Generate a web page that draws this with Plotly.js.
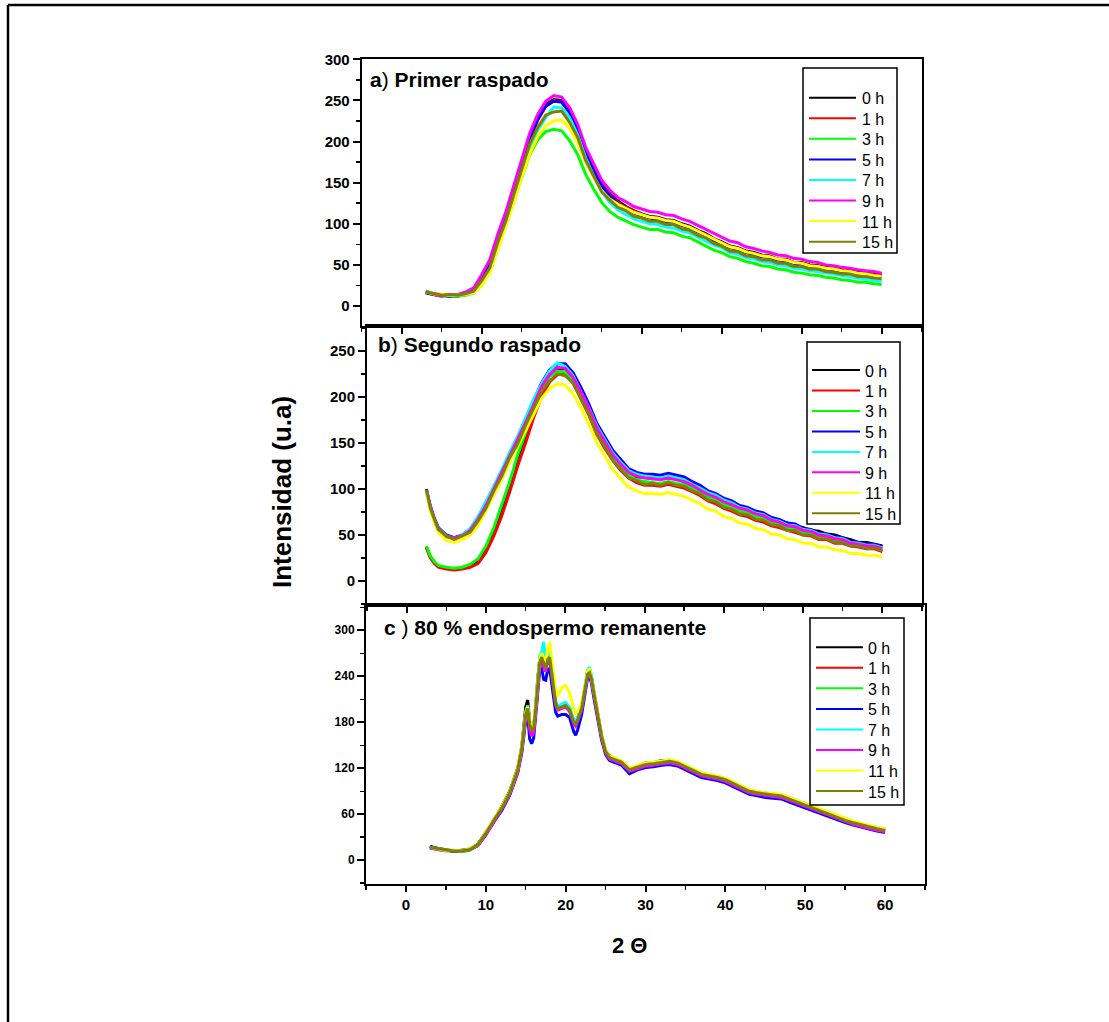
<!DOCTYPE html>
<html><head><meta charset="utf-8">
<script src="https://cdn.plot.ly/plotly-3.0.1.min.js"></script>
<style>html,body{margin:0;padding:0;background:#fff}</style>
</head><body><div id="chart" style="width:1109px;height:1022px"></div>
<script>
const W = 1109, H = 1022;
const seriesNames = ['0 h','1 h','3 h','5 h','7 h','9 h','11 h','15 h'];
const seriesColors = ['#000000','#FF0000','#00FF00','#0000FF','#00FFFF','#FF00FF','#FFFF00','#808000'];

// Panel a: Primer raspado (2 theta = 3..60)
const xA = [3,4,5,6,7,8,9,10,11,12,13,14,15,16,17,18,19,20,21,22,23,24,25,26,27,28,29,30,31,32,33,34,35,36,37,38,39,40,41,42,43,44,45,46,47,48,49,50,51,52,53,54,55,56,57,58,59,60];
const a_0h = [17,14,13,13,12,15,20,34,51,82, 109,140,172,204,228,245,251,250,238,218, 190,168,149,137,128,121,116,112,109,108, 105,104,100,97,92,88,82,78,73,71, 67,65,62,61,57,57,53,53,50,49, 47,46,44,43,41,40,39,38];
const a_1h = [18,15,14,13,13,14,19,33,50,80, 108,139,170,202,226,243,250,248,236,216, 188,166,147,135,126,120,115,111,108,106, 104,102,99,96,91,87,81,77,72,70, 66,64,61,60,57,56,53,52,49,48, 46,45,43,42,40,40,38,37];
const a_3h = [16,14,12,12,12,13,16,26,42,71, 98,127,156,184,202,212,215,213,201,184, 160,142,126,115,108,103,99,96,93,93, 90,89,85,83,78,74,68,65,60,58, 54,52,49,48,45,44,41,40,38,37, 35,34,32,31,29,29,27,26];
const a_5h = [16,14,13,12,13,15,21,34,51,81, 108,139,171,203,227,243,249,248,235,214, 187,165,146,134,125,119,113,110,107,105, 103,101,98,95,90,86,80,76,71,69, 65,63,60,59,56,55,52,51,48,47, 45,44,42,41,40,39,37,36];
const a_7h = [18,15,13,13,13,14,17,27,43,72, 100,130,161,191,214,229,242,241,229,208, 180,158,139,126,117,111,106,103,100,99, 96,95,91,89,84,80,74,71,65,63, 59,57,54,53,50,49,46,45,43,42, 40,39,37,36,34,33,31,30];
const a_9h = [18,14,12,14,14,17,22,38,56,87, 114,146,178,210,233,249,256,254,241,221, 193,172,153,141,132,127,121,118,115,114, 111,110,106,103,98,94,89,84,79,77, 72,70,67,65,62,61,58,57,54,53, 50,49,47,46,44,43,42,40];
const a_11h = [17,15,14,13,13,14,16,25,40,68, 95,125,156,185,206,219,225,226,216,198, 174,156,140,130,124,119,114,111,108,107, 104,103,99,96,91,87,81,77,72,70, 66,64,61,60,57,56,53,52,49,48, 46,45,43,42,40,39,37,36];
const a_15h = [17,15,13,14,13,15,18,31,46,77, 103,135,165,197,217,232,236,237,223,205, 177,158,139,129,120,116,109,107,103,103, 99,99,94,92,86,83,76,73,67,66, 61,60,56,56,52,52,48,48,45,45, 42,41,39,39,36,36,34,33];

// Panel b: Segundo raspado (2 theta = 2.5..60)
const xB = [2.5,3,3.5,4,5,6,7,8,9,10,11,12,13,14,15,16,17,18,19,20,21,22,23,24,25,26,27,28,29,30,31,32,33,34,35,36,37,38,39,40,41,42,43,44,45,46,47,48,49,50,51,52,53,54,55,56,57,58,59,60];
const b_0h = [37,26,20,16,14,13,14,17,22,36, 55,79,104,134,157,186,207,223,229,231, 221,206,186,167,150,139,127,120,113,113, 111,112,112,112,108,106,99,96,91,88, 83,81,77,75,71,69,65,63,60,58, 55,54,51,50,47,45,42,42,40,38];
const b_1h = [36,25,19,15,13,12,13,15,19,31, 49,71,97,125,150,177,200,216,224,226, 215,198,180,159,144,131,120,112,107,104, 104,103,105,103,101,97,93,87,84,79, 76,72,70,66,64,60,58,55,53,50, 49,45,45,41,41,38,37,35,35,32];
const b_3h = [38,27,21,17,15,14,15,18,24,38, 58,82,108,137,161,188,209,222,228,227, 217,201,183,162,148,134,124,115,110,108, 107,106,108,106,105,101,96,91,88,83, 80,76,74,70,68,64,62,58,57,53, 52,49,48,45,44,41,40,37,37,35];
const b_5h = [100,81,68,58,50,47,50,56,68,84, 102,119,139,156,176,196,215,229,236,236, 226,210,192,171,156,142,132,122,118,116, 116,115,117,115,113,108,104,98,95,90, 87,82,80,76,74,69,67,63,62,57, 56,52,51,48,47,43,42,40,40,37];
const b_7h = [98,78,66,57,49,46,50,57,70,86, 103,121,140,157,177,197,214,228,237,233, 223,206,188,168,153,139,129,120,116,114, 113,112,114,112,110,105,101,96,93,88, 85,80,78,74,72,67,65,61,60,56, 55,51,50,47,46,42,41,39,39,36];
const b_9h = [97,80,66,57,48,47,49,55,67,82, 100,117,136,153,172,191,211,224,232,231, 221,205,187,166,151,137,127,118,114,112, 111,110,112,110,108,104,99,94,91,86, 83,79,77,73,71,66,64,60,59,55, 54,50,49,46,45,41,40,38,38,35];
const b_11h = [96,76,63,53,44,42,45,50,60,76, 93,110,129,146,163,181,198,209,214,213, 203,188,170,150,135,121,111,102,98,95, 95,94,96,94,92,88,84,78,76,70, 68,63,62,57,56,51,50,46,45,41, 41,37,37,34,33,30,30,28,28,26];
const b_15h = [99,79,67,56,49,45,49,53,65,79, 98,114,134,149,169,187,206,217,225,223, 215,198,181,159,146,131,122,112,109,105, 106,104,107,104,103,98,95,88,86,80, 78,73,72,67,66,61,60,55,55,50, 50,46,46,42,42,38,38,35,36,33];

// Panel c: 80 % endospermo remanente
const xC = [3,4,5,6,7,8,9,10,11,12,13,14,14.5,15,15.25,15.5,15.75,16,16.25,16.5,16.75,17,17.25,17.5,17.75,18,18.25,18.5,18.75,19,19.5,20,20.5,21,21.25,21.5,22,22.5,22.75,23,23.25,23.5,24,24.5,25,25.5,26,27,28,29,30,31,32,33,34,35,36,37,38,39,40,41,42,43,44,45,46,47,48,49,50,51,52,53,54,55,56,57,58,59,60];
const c_0h = [18,14,13,12,13,14,21,36,51,70, 90,120,148,200,209,180,170,175,200,236, 262,268,260,252,264,268,246,224,206,199, 203,204,198,182,179,185,200,230,246,248, 238,222,194,163,143,136,133,129,119,123, 127,127,130,130,128,123,118,113,111,109, 106,101,96,91,89,87,86,85,81,77, 73,69,65,61,57,53,50,47,44,42, 40];
const c_1h = [17,15,14,12,12,15,20,34,53,67, 87,117,146,192,201,179,167,171,197,231, 257,264,257,249,263,266,244,221,204,197, 199,201,195,179,177,182,197,227,242,246, 237,219,191,161,141,133,131,127,117,121, 124,125,127,128,126,121,116,111,109,107, 104,99,94,89,87,85,84,83,79,75, 71,67,63,59,55,51,48,45,42,40, 38];
const c_3h = [16,14,12,12,11,13,19,35,51,69, 89,119,144,188,196,176,167,173,199,233, 259,266,259,251,261,264,244,221,206,199, 201,203,197,181,179,184,199,229,244,246, 235,219,191,161,143,135,133,129,119,123, 126,127,129,130,128,123,118,113,111,109, 106,101,96,91,89,87,86,85,81,77, 73,69,65,61,57,53,50,47,44,42, 40];
const c_5h = [18,15,13,12,12,14,19,33,50,65, 85,114,140,182,188,158,152,160,188,222, 248,250,236,235,248,250,232,210,193,188, 190,190,186,168,163,170,190,222,238,240, 230,214,186,157,138,130,128,124,113,118, 121,122,124,125,123,118,113,108,106,104, 101,96,91,86,84,82,81,80,76,72, 68,64,60,56,53,49,46,43,40,38, 36];
const c_7h = [17,14,13,13,12,14,20,36,52,69, 88,118,147,194,202,180,170,176,202,238, 266,272,285,256,268,272,250,226,208,201, 204,206,199,183,181,186,201,232,248,252, 240,223,194,163,143,135,133,129,119,123, 126,128,129,131,128,123,118,113,111,109, 106,101,96,91,89,87,86,85,81,77, 73,69,65,61,57,53,50,47,44,42, 40];
const c_9h = [16,14,13,12,12,14,19,33,50,67, 86,115,142,186,194,170,162,166,190,224, 250,258,252,246,258,262,242,219,202,196, 198,200,194,178,175,181,196,226,241,243, 234,218,190,160,140,132,130,126,116,120, 123,124,126,127,125,120,115,110,108,106, 103,98,93,88,86,84,83,82,78,74, 70,66,62,58,54,50,47,44,41,39, 37];
const c_11h = [17,15,13,13,12,15,20,36,53,70, 89,120,148,192,200,182,172,176,201,236, 262,270,264,258,275,285,262,240,222,214, 225,228,218,198,192,194,204,231,246,250, 238,222,194,164,144,136,134,130,120,124, 127,128,130,131,129,124,119,114,112,110, 107,102,97,92,90,88,87,86,82,78, 74,70,66,62,58,54,51,48,45,43, 41];
const c_15h = [17,15,13,12,12,14,20,35,52,68, 88,118,145,190,198,178,168,172,198,232, 258,265,258,250,262,265,245,222,205,198, 200,202,196,180,178,183,198,228,243,245, 236,220,192,162,142,134,132,128,118,122, 125,126,128,129,127,122,117,112,110,108, 105,100,95,90,88,86,85,84,80,76, 72,68,64,60,56,52,49,46,43,41, 39];

const panelA = [a_0h,a_1h,a_3h,a_5h,a_7h,a_9h,a_11h,a_15h];
const panelB = [b_0h,b_1h,b_3h,b_5h,b_7h,b_9h,b_11h,b_15h];
const panelC = [c_0h,c_1h,c_3h,c_5h,c_7h,c_9h,c_11h,c_15h];

const FONT = 'Liberation Sans, Arial, Helvetica, sans-serif';
const px = v => v / W;
const py = v => 1 - v / H;

const traces = [];
function addPanel(xs, ys, xa, ya) {
  ys.forEach((y, i) => {
    traces.push({
      type: 'scatter', mode: 'lines', x: xs, y: y, name: seriesNames[i],
      xaxis: xa, yaxis: ya, showlegend: false,
      line: {color: seriesColors[i], width: 3}
    });
  });
}
addPanel(xA, panelA, 'x', 'y');
addPanel(xB, panelB, 'x2', 'y2');
addPanel(xC, panelC, 'x3', 'y3');

function xax(d0, d1, anchor, labels) {
  return {
    domain: [px(d0), px(d1)], anchor: anchor, range: [-5, 65],
    tick0: 0, dtick: 10, ticks: 'outside', ticklen: 6, tickwidth: 2, tickcolor: '#000',
    showticklabels: labels, tickfont: {family: FONT, size: 15, color: '#000', weight: 'bold'},
    showline: true, linewidth: 2, linecolor: '#000', mirror: true,
    showgrid: false, zeroline: false,
    minor: {dtick: 5, tick0: 0, ticks: 'outside', ticklen: 4, tickwidth: 1.5, tickcolor: '#000', showgrid: false}
  };
}
function yax(top, bot, anchor, range, dt, fs) {
  return {
    domain: [py(bot), py(top)], anchor: anchor, range: range,
    tick0: 0, dtick: dt, ticks: 'outside', ticklen: 7, tickwidth: 2, tickcolor: '#000',
    tickfont: {family: FONT, size: fs, color: '#000', weight: 'bold'},
    showline: true, linewidth: 2, linecolor: '#000', mirror: true,
    showgrid: false, zeroline: false,
    minor: {dtick: dt / 2, tick0: 0, ticks: 'outside', ticklen: 4, tickwidth: 1.5, tickcolor: '#000', showgrid: false}
  };
}
function box(x0, y0, x1, y1, w) {
  return {type: 'rect', xref: 'paper', yref: 'paper', x0: px(x0), x1: px(x1), y0: py(y1), y1: py(y0),
    line: {color: '#000', width: w}, fillcolor: 'rgba(0,0,0,0)', layer: 'above'};
}
function title(text, x, y, size) {
  return {xref: 'paper', yref: 'paper', x: px(x), y: py(y), xanchor: 'left', yanchor: 'middle',
    text: text, showarrow: false, font: {family: FONT, size: size, color: '#000'}};
}

const shapes = [
  box(803, 68, 897, 253, 1.5),
  box(807, 342, 900, 524, 1.5),
  box(810, 618, 904, 805, 1.5),
  {type: 'line', xref: 'paper', yref: 'paper', x0: px(8), x1: px(1109), y0: py(5), y1: py(5), line: {color: '#000', width: 2.5}},
  {type: 'line', xref: 'paper', yref: 'paper', x0: px(8), x1: px(8), y0: py(5), y1: py(1022), line: {color: '#000', width: 2.5}}
];
const annotations = [
  title('<b>a</b>)<b> Primer raspado</b>', 368, 79, 21),
  title('<b>b</b>)<b> Segundo raspado</b>', 376, 344, 21),
  title('<b>c </b>)<b> 80 % endospermo remanente</b>', 382, 627, 21),
  {xref: 'paper', yref: 'paper', x: px(282), y: py(492), xanchor: 'center', yanchor: 'middle', textangle: -90,
    text: '<b>Intensidad (u.a)</b>', showarrow: false, font: {family: FONT, size: 26, color: '#000'}},
  {xref: 'paper', yref: 'paper', x: px(630), y: py(945), xanchor: 'center', yanchor: 'middle',
    text: '<b>2 Θ</b>', showarrow: false, font: {family: FONT, size: 22, color: '#000'}}
];

// Legend keys (one per panel): sample line + label for each series
function legendKeys(lx0, lx1, tx, y0, step) {
  seriesNames.forEach((name, i) => {
    const y = y0 + step * i;
    shapes.push({type: 'line', xref: 'paper', yref: 'paper', x0: px(lx0), x1: px(lx1), y0: py(y), y1: py(y),
      line: {color: seriesColors[i], width: 2}});
    annotations.push({xref: 'paper', yref: 'paper', x: px(tx), y: py(y + 1), xanchor: 'left', yanchor: 'middle',
      text: name, showarrow: false, font: {family: FONT, size: 16, color: '#000'}});
  });
}
legendKeys(809, 856, 860, 97.7, 20.57);
legendKeys(812, 860, 863, 370, 20.47);
legendKeys(816, 863, 866, 647.3, 20.53);

const layout = {
  width: W, height: H, margin: {l: 0, r: 0, t: 0, b: 0},
  paper_bgcolor: '#fff', plot_bgcolor: 'rgba(0,0,0,0)', showlegend: false,
  xaxis: xax(361.7, 921.7, 'y', false),
  yaxis: yax(59.3, 326, 'x', [-24.3, 300], 50, 15),
  xaxis2: xax(367, 922, 'y2', false),
  yaxis2: yax(326, 605, 'x2', [-26, 277], 50, 15),
  xaxis3: xax(366, 925, 'y3', true),
  yaxis3: yax(605, 884, 'x3', [-31, 333], 60, 12),
  shapes: shapes,
  annotations: annotations
};

Plotly.newPlot('chart', traces, layout, {displayModeBar: false, staticPlot: true});
</script></body></html>
